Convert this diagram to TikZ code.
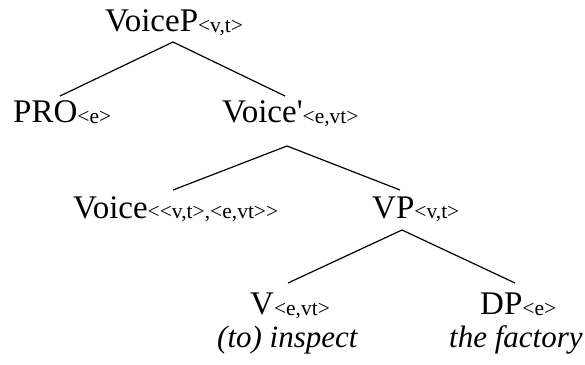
\documentclass[tikz,border=0pt]{standalone}
\usepackage{fontspec}
\setmainfont{Liberation Serif}
\begin{document}
\begin{tikzpicture}[x=1pt,y=1pt,
  lbl/.style={inner sep=0pt, anchor=base west, font=\fontsize{33}{39}\selectfont},
  gloss/.style={lbl, font=\fontsize{31}{37}\selectfont\itshape},
  edge/.style={line width=1.2pt}]
\newcommand{\sbx}[1]{\raisebox{-1pt}{\fontsize{21.5}{25}\selectfont #1}}
\useasboundingbox (0,0) rectangle (585,364);
% nodes
\node[lbl] (voicep) at (105,332) {VoiceP\sbx{<v,t>}};
\node[lbl] (pro) at (13,241) {PRO\sbx{<e>}};
\node[lbl] (voicebar) at (222,241) {Voice\textquotesingle\sbx{<e,vt>}};
\node[lbl] (voice) at (73,146) {Voice\sbx{<{}<v,t>,<e,vt>{}>}};
\node[lbl] (vp) at (372,146) {VP\sbx{<v,t>}};
\node[lbl] (v) at (250,50) {V\sbx{<e,vt>}};
\node[lbl] (dp) at (480,50) {DP\sbx{<e>}};
\node[gloss] (insp) at (217,17) {(to) inspect};
\node[gloss] (fact) at (449,17) {the factory};
% attachment points
\coordinate (voicep-b) at (173,322);
\coordinate (pro-t) at (60,268);
\coordinate (voicebar-t) at (285,268);
\coordinate (voicebar-b) at (287,218);
\coordinate (voice-t) at (173,174);
\coordinate (vp-t) at (400,174);
\coordinate (vp-b) at (402,134);
\coordinate (v-t) at (288,81);
\coordinate (dp-t) at (515,81);
% edges
\draw[edge] (voicep-b) -- (pro-t);
\draw[edge] (voicep-b) -- (voicebar-t);
\draw[edge] (voicebar-b) -- (voice-t);
\draw[edge] (voicebar-b) -- (vp-t);
\draw[edge] (vp-b) -- (v-t);
\draw[edge] (vp-b) -- (dp-t);
\end{tikzpicture}
\end{document}
